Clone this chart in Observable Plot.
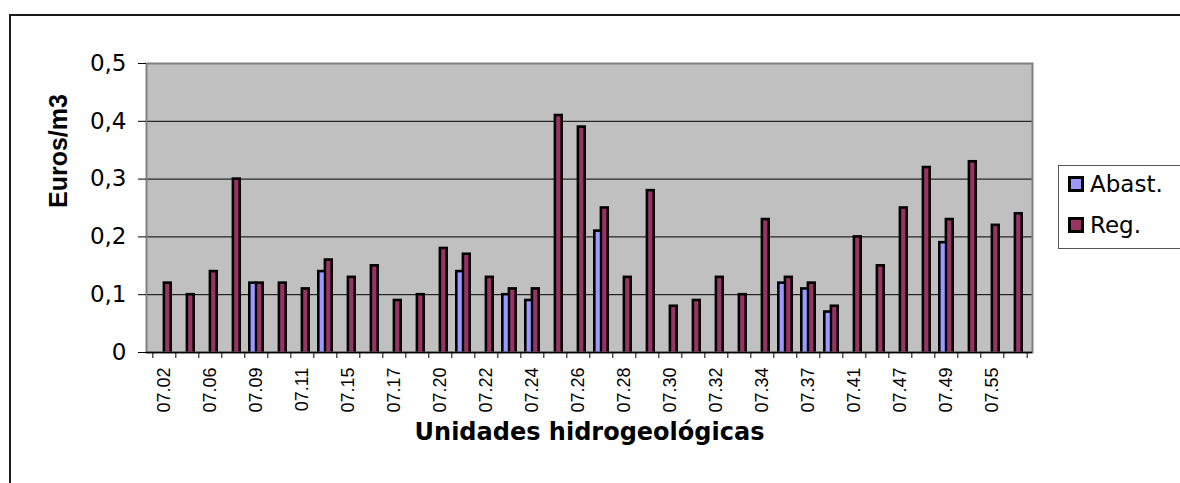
<!DOCTYPE html>
<html>
<head>
<meta charset="utf-8">
<script src="https://cdn.jsdelivr.net/npm/d3@7"></script>
<script src="https://cdn.jsdelivr.net/npm/@observablehq/plot@0.6"></script>
<style>
  html, body { margin: 0; padding: 0; background: #fff; overflow: hidden; }
  #wrap { position: relative; width: 1180px; height: 483px; font-family: "DejaVu Sans", Arial, sans-serif; }
  #border { position: absolute; left: 9px; top: 14px; width: 1300px; height: 600px; border: 2px solid #1a1a1a; box-sizing: border-box; pointer-events: none; }
  #legend { position: absolute; left: 1058px; top: 165px; width: 160px; height: 84px; border: 1px solid #555; background: #fff; box-sizing: border-box; }
  .item { position: absolute; left: 9px; display: flex; align-items: center; font-size: 23px; color: #000; }
  .sw { width: 10px; height: 10px; border: 3px solid #000; margin-right: 6px; }
</style>
</head>
<body>
<div id="wrap">
  <div id="chart"></div>
  <div id="border"></div>
  <div id="legend"></div>
</div>
<script>
const categories = ["07.02","07.04","07.06","07.07","07.09","07.10","07.11","07.13","07.15","07.16",
  "07.17","07.19","07.20","07.21","07.22","07.23","07.24","07.25","07.26","07.27",
  "07.28","07.29","07.30","07.31","07.32","07.33","07.34","07.35","07.37","07.39",
  "07.41","07.43","07.47","07.48","07.49","07.52","07.55","07.57"];
const abast = [null,null,null,null,0.12,null,null,0.14,null,null,
  null,null,null,0.14,null,0.10,0.09,null,null,0.21,
  null,null,null,null,null,null,null,0.12,0.11,0.07,
  null,null,null,null,0.19,null,null,null];
const reg = [0.12,0.10,0.14,0.30,0.12,0.12,0.11,0.16,0.13,0.15,
  0.09,0.10,0.18,0.17,0.13,0.11,0.11,0.41,0.39,0.25,
  0.13,0.28,0.08,0.09,0.13,0.10,0.23,0.13,0.12,0.08,
  0.20,0.15,0.25,0.32,0.23,0.33,0.22,0.24];
const seriesNames = ["Abast.", "Reg."];
const seriesColors = ["#9999FF", "#993366"];
const yTicks = [0, 0.1, 0.2, 0.3, 0.4, 0.5];
const labeledCats = categories.filter((d, i) => i % 2 === 0);
const yTitle = "Euros/m3";
const xTitle = "Unidades hidrogeológicas";

const abastData = categories.map((c, i) => ({cat: c, value: abast[i]})).filter(d => d.value != null);
const regData = categories.map((c, i) => ({cat: c, value: reg[i]}));

const W = 1180, H = 483;
const mL = 146, mR = 148, mT = 63, mB = 131;
const step = (W - mL - mR) / categories.length;
const border = 2.6, inner = 4;              // bar outline and fill widths (px)
const bw = 3 * border + 2 * inner;          // width of a pair of bars
const pInner = 1 - bw / step;
const split = border + inner;               // offset of the shared middle outline
const fmt = d => d === 0 ? "0" : d3.format(".1f")(d).replace(".", ",");
const arial = 'Arial, "Liberation Sans", sans-serif';
const wide = '"DejaVu Sans", Arial, sans-serif';

const chart = Plot.plot({
  width: W, height: H,
  marginLeft: mL, marginRight: mR, marginTop: mT, marginBottom: mB,
  style: {fontFamily: arial, background: "transparent", color: "#000"},
  x: {type: "band", domain: categories, paddingInner: pInner, paddingOuter: pInner / 2, axis: null},
  y: {domain: [0, 0.5], axis: null},
  marks: [
    Plot.frame({fill: "#c0c0c0"}),
    Plot.gridY(yTicks.filter(t => t > 0 && t < 0.5), {stroke: "#000", strokeOpacity: 1, strokeWidth: 1}),
    // black outlines
    Plot.barY(abastData, {x: "cat", y: "value", fill: "#000", insetRight: split, insetTop: -border / 2}),
    Plot.barY(regData, {x: "cat", y: "value", fill: "#000", insetLeft: split, insetTop: -border / 2}),
    // coloured fills
    Plot.barY(abastData, {x: "cat", y: "value", fill: seriesColors[0], insetLeft: border, insetRight: split + border, insetTop: border / 2}),
    Plot.barY(regData, {x: "cat", y: "value", fill: seriesColors[1], insetLeft: split + border, insetRight: border, insetTop: border / 2}),
    Plot.frame({stroke: "#808080", strokeWidth: 2}),
    Plot.ruleY([0], {stroke: "#000", strokeWidth: 1.5}),
    Plot.axisY({ticks: yTicks, tickFormat: fmt, tickSize: 8, tickPadding: 12, fontSize: 23, fontFamily: wide, label: null}),
    Plot.axisX({ticks: categories, tickSize: 6, tickFormat: () => "", dx: -step / 2, label: null}),
    Plot.axisX({ticks: categories.slice(-1), tickSize: 6, tickFormat: () => "", dx: step / 2, label: null}),
    Plot.axisX({ticks: labeledCats, tickSize: 0, tickPadding: 15, tickRotate: -90, fontSize: 18, label: null}),
    Plot.text([yTitle], {text: d => d, frameAnchor: "left", rotate: -90, dx: -88, fontSize: 25, fontWeight: "bold"}),
    Plot.text([xTitle], {text: d => d, frameAnchor: "bottom", dy: 87, fontSize: 24, fontWeight: "bold", fontFamily: wide})
  ]
});
document.getElementById("chart").appendChild(chart);

const legend = document.getElementById("legend");
seriesNames.forEach((name, i) => {
  const item = document.createElement("div");
  item.className = "item";
  item.style.top = (i === 0 ? 5 : 46) + "px";
  const sw = document.createElement("div");
  sw.className = "sw";
  sw.style.background = seriesColors[i];
  const t = document.createElement("span");
  t.textContent = name;
  item.appendChild(sw);
  item.appendChild(t);
  legend.appendChild(item);
});
</script>
</body>
</html>
